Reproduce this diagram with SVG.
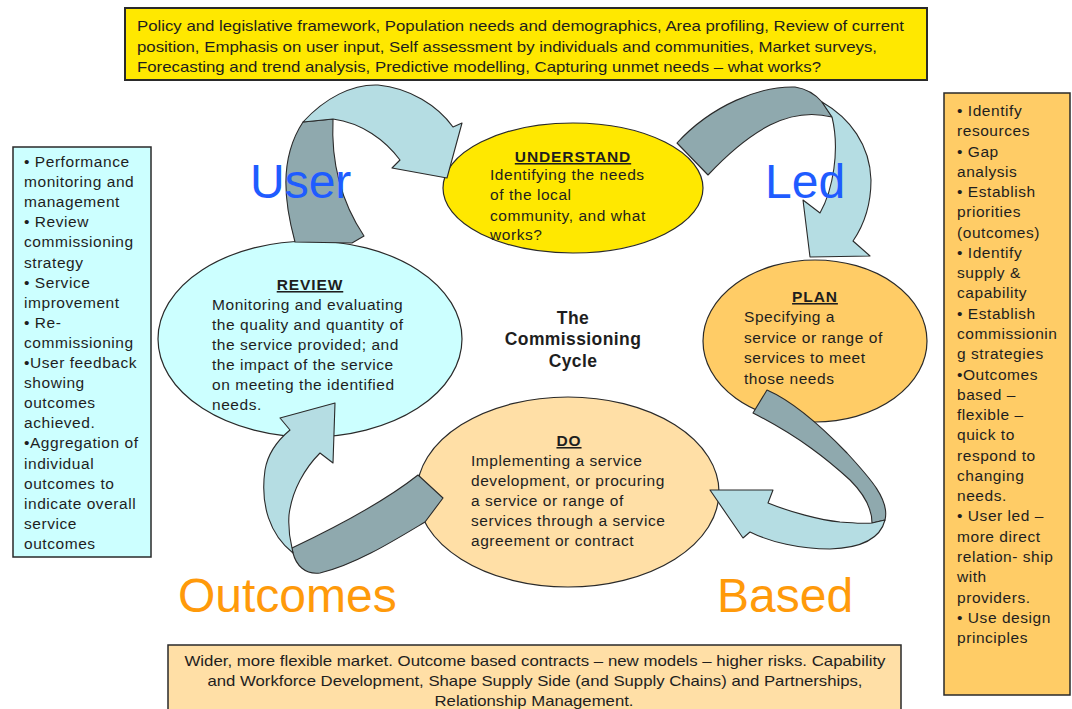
<svg xmlns="http://www.w3.org/2000/svg" width="1072" height="709" viewBox="0 0 1072 709">
<style>
.t{font-family:"Liberation Sans",Arial,sans-serif;font-size:15.5px;letter-spacing:0.55px;fill:#1e1e1e}
.h{font-family:"Liberation Sans",Arial,sans-serif;font-size:15.5px;font-weight:bold;letter-spacing:0.9px;fill:#1e1e1e;text-anchor:middle;text-decoration:underline}
.c{font-family:"Liberation Sans",Arial,sans-serif;font-size:17.5px;font-weight:bold;letter-spacing:0.4px;fill:#1e1e1e;text-anchor:middle}
.n{font-family:"Liberation Sans",Arial,sans-serif;font-size:14.5px;fill:#1e1e1e}
.big{font-family:"Liberation Sans",Arial,sans-serif;font-size:48px}
.blue{fill:#1f5cff}
.orange{fill:#ff9a0a}
.box{stroke:#2a2a2a;stroke-width:1.5}
.ell{stroke:#2a2a2a;stroke-width:1.2}
.dk{fill:#8fa9ae;stroke:#2a2a2a;stroke-width:1.1;stroke-linejoin:round}
.lt{fill:#b5dde3;stroke:#2a2a2a;stroke-width:1.1;stroke-linejoin:round}
</style>
<rect width="1072" height="709" fill="#ffffff"/>

<g id="box-top">
<rect class="box" x="125" y="8" width="802" height="72" fill="#ffe800" stroke="#2b2b10" style="stroke-width:2"/>
<text class="n" x="137" y="31" textLength="767" lengthAdjust="spacingAndGlyphs">Policy and legislative framework, Population needs and demographics, Area profiling, Review of current</text>
<text class="n" x="137" y="52" textLength="740" lengthAdjust="spacingAndGlyphs">position, Emphasis on user input, Self assessment by individuals and communities, Market surveys,</text>
<text class="n" x="137" y="72" textLength="684" lengthAdjust="spacingAndGlyphs">Forecasting and trend analysis, Predictive modelling, Capturing unmet needs – what works?</text>
</g>

<g id="box-left">
<rect class="box" x="13" y="147" width="138" height="410" fill="#ccffff"/>
<text class="t" x="24" y="167">
<tspan x="24" y="167">• Performance</tspan>
<tspan x="24" y="187.1">monitoring and</tspan>
<tspan x="24" y="207.2">management</tspan>
<tspan x="24" y="227.3">• Review</tspan>
<tspan x="24" y="247.4">commissioning</tspan>
<tspan x="24" y="267.5">strategy</tspan>
<tspan x="24" y="287.6">• Service</tspan>
<tspan x="24" y="307.7">improvement</tspan>
<tspan x="24" y="327.8">• Re-</tspan>
<tspan x="24" y="347.9">commissioning</tspan>
<tspan x="24" y="368">•User feedback</tspan>
<tspan x="24" y="388.1">showing</tspan>
<tspan x="24" y="408.2">outcomes</tspan>
<tspan x="24" y="428.3">achieved.</tspan>
<tspan x="24" y="448.4">•Aggregation of</tspan>
<tspan x="24" y="468.5">individual</tspan>
<tspan x="24" y="488.6">outcomes to</tspan>
<tspan x="24" y="508.7">indicate overall</tspan>
<tspan x="24" y="528.8">service</tspan>
<tspan x="24" y="548.9">outcomes</tspan>
</text>
</g>

<g id="box-right">
<rect class="box" x="944" y="93" width="126" height="602" fill="#ffcc66"/>
<text class="t" x="957" y="116">
<tspan x="957" y="116">• Identify</tspan>
<tspan x="957" y="136.3">resources</tspan>
<tspan x="957" y="156.5">• Gap</tspan>
<tspan x="957" y="176.8">analysis</tspan>
<tspan x="957" y="197.1">• Establish</tspan>
<tspan x="957" y="217.4">priorities</tspan>
<tspan x="957" y="237.6">(outcomes)</tspan>
<tspan x="957" y="257.9">• Identify</tspan>
<tspan x="957" y="278.2">supply &amp;</tspan>
<tspan x="957" y="298.4">capability</tspan>
<tspan x="957" y="318.7">• Establish</tspan>
<tspan x="957" y="339">commissionin</tspan>
<tspan x="957" y="359.2">g strategies</tspan>
<tspan x="957" y="379.5">•Outcomes</tspan>
<tspan x="957" y="399.8">based –</tspan>
<tspan x="957" y="420">flexible –</tspan>
<tspan x="957" y="440.3">quick to</tspan>
<tspan x="957" y="460.6">respond to</tspan>
<tspan x="957" y="480.9">changing</tspan>
<tspan x="957" y="501.1">needs.</tspan>
<tspan x="957" y="521.4">• User led –</tspan>
<tspan x="957" y="541.7">more direct</tspan>
<tspan x="957" y="561.9">relation- ship</tspan>
<tspan x="957" y="582.2">with</tspan>
<tspan x="957" y="602.5">providers.</tspan>
<tspan x="957" y="622.8">• Use design</tspan>
<tspan x="957" y="643">principles</tspan>
</text>
</g>

<g id="box-bottom">
<rect class="box" x="168" y="645" width="733" height="72" fill="#ffdfa6"/>
<text class="n" x="535" y="666" text-anchor="middle" textLength="701" lengthAdjust="spacingAndGlyphs">Wider, more flexible market. Outcome based contracts – new models – higher risks.  Capability</text>
<text class="n" x="535" y="686" text-anchor="middle" textLength="655" lengthAdjust="spacingAndGlyphs">and Workforce Development, Shape Supply Side (and Supply Chains) and Partnerships,</text>
<text class="n" x="534" y="706" text-anchor="middle" textLength="199" lengthAdjust="spacingAndGlyphs">Relationship Management.</text>
</g>

<g id="understand">
<ellipse class="ell" cx="573" cy="188" rx="130" ry="65" fill="#ffe800"/>
<text class="h" x="573" y="162">UNDERSTAND</text>
<text class="t" x="490" y="180">
<tspan x="490" y="180">Identifying the needs</tspan>
<tspan x="490" y="200">of the local</tspan>
<tspan x="490" y="221">community, and what</tspan>
<tspan x="490" y="240">works?</tspan>
</text>
</g>

<g id="review">
<ellipse class="ell" cx="310" cy="339" rx="152" ry="98" fill="#ccffff"/>
<text class="h" x="310" y="290">REVIEW</text>
<text class="t" x="212" y="310">
<tspan x="212" y="310">Monitoring and evaluating</tspan>
<tspan x="212" y="330">the quality and quantity of</tspan>
<tspan x="212" y="350">the service provided; and</tspan>
<tspan x="212" y="370">the impact of the service</tspan>
<tspan x="212" y="390">on meeting the identified</tspan>
<tspan x="212" y="410">needs.</tspan>
</text>
</g>

<g id="plan">
<ellipse class="ell" cx="815" cy="341" rx="112" ry="81" fill="#ffcc66"/>
<text class="h" x="815" y="302">PLAN</text>
<text class="t" x="744" y="322">
<tspan x="744" y="322">Specifying a</tspan>
<tspan x="744" y="343">service or range of</tspan>
<tspan x="744" y="363">services to meet</tspan>
<tspan x="744" y="384">those needs</tspan>
</text>
</g>

<g id="do">
<ellipse class="ell" cx="568" cy="492" rx="151" ry="95" fill="#ffdfa6"/>
<text class="h" x="569" y="446">DO</text>
<text class="t" x="471" y="466">
<tspan x="471" y="466">Implementing a service</tspan>
<tspan x="471" y="486">development, or procuring</tspan>
<tspan x="471" y="506">a service or range of</tspan>
<tspan x="471" y="526">services through a service</tspan>
<tspan x="471" y="546">agreement or contract</tspan>
</text>
</g>

<g id="title">
<text class="c" x="573" y="324">The</text>
<text class="c" x="573" y="345">Commissioning</text>
<text class="c" x="573" y="367">Cycle</text>
</g>

<g id="connectors">
<g id="arrow-review-understand">
<path class="dk" d="M295,242 C285,205 278,160 303,122 L333,119 C331,160 340,200 364,236 L352,243 Z"/>
<path class="lt" d="M303,122 C325,98 352,84 378,85 C410,88 438,106 453,127 L462,123 L447,178 L392,168 L400,160 C385,140 362,123 333,119 Z"/>
</g>
<g id="arrow-understand-plan">
<path class="dk" d="M677,143 C712,105 760,86 795,87 C808,89 816,95 822,102 L832,117 C812,112 790,115 770,125 C745,138 722,160 708,175 Z"/>
<path class="lt" d="M822,102 C850,118 870,145 871,180 C871,205 864,225 853,241 L870,256 L810,257 L803,200 L820,213 C833,190 840,150 832,117 Z"/>
</g>
<g id="arrow-plan-do">
<path class="dk" d="M767,390 C790,400 820,425 847,453 C870,478 890,500 885,520 L872,523 C872,505 860,490 850,480 C828,460 800,437 753,413 Z"/>
<path class="lt" d="M885,520 C880,540 860,548 830,549 C800,549 770,542 750,532 L743,538 L710,490 L773,490 L768,503 C790,512 820,520 840,522 C855,523 865,524 872,523 Z"/>
</g>
<g id="arrow-do-review">
<path class="dk" d="M418,475 L443,498 L425,522 C395,540 355,565 320,573 C305,575 296,565 293,553 L292,548 C330,530 380,505 418,475 Z"/>
<path class="lt" d="M293,553 C270,535 260,505 265,470 C268,452 278,440 290,430 L280,418 L335,403 L333,463 L320,453 C305,468 292,490 289,515 C288,530 290,540 292,548 Z"/>
</g>
</g>

<g id="labels">
<text class="big blue" x="250" y="198">User</text>
<text class="big blue" x="765" y="198">Led</text>
<text class="big orange" x="178" y="612">Outcomes</text>
<text class="big orange" x="717" y="612">Based</text>
</g>
</svg>
